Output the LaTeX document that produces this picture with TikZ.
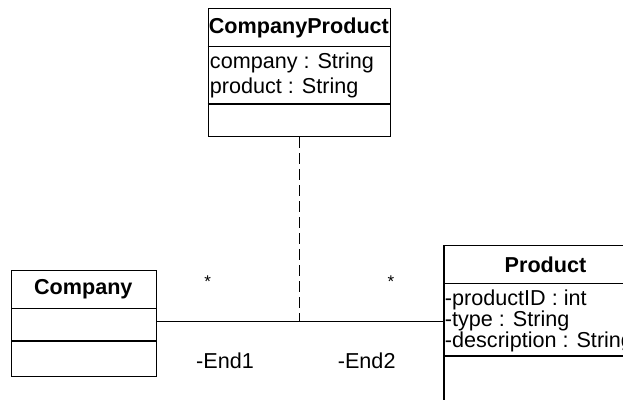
\documentclass[tikz,border=0pt]{standalone}
\usepackage{fontspec}
\setmainfont{Liberation Sans}
\begin{document}
\begin{tikzpicture}[x=1pt,y=-1pt,line width=1.3pt,
  classbox/.style={draw,rectangle,inner sep=0pt,anchor=north west},
  ctitle/.style={font=\fontsize{21.6}{23}\selectfont\bfseries,inner sep=0pt},
  attr/.style={font=\fontsize{21.6}{23}\selectfont,inner sep=0pt,anchor=west},
  elabel/.style={font=\fontsize{21.6}{23}\selectfont,inner sep=0pt},
  mult/.style={font=\fontsize{17}{19}\selectfont,inner sep=0pt},
  assoc/.style={line width=1.2pt},
  assocclass/.style={line width=1.2pt,dash pattern=on 11pt off 5pt}]
\useasboundingbox (0,0) rectangle (623,399);
\clip (0,0) rectangle (623,399);

% association class CompanyProduct
\node[classbox,minimum width=182.3pt,minimum height=128.5pt] (cp) at (207.7,7.5) {};
\draw (cp.west |- 0,46.7) -- (cp.east |- 0,46.7);
\draw (cp.west |- 0,104) -- (cp.east |- 0,104);
\node[ctitle] (cpt) at (298.9,27.5) {CompanyProduct};
\node[attr] (cpa1) at (209.3,63) {company : String};
\node[attr] (cpa2) at (209.3,87.5) {product : String};

% class Company
\node[classbox,minimum width=144.7pt,minimum height=105.7pt] (co) at (11,270) {};
\draw (co.west |- 0,308.3) -- (co.east |- 0,308.3);
\draw (co.west |- 0,341) -- (co.east |- 0,341);
\node[ctitle] (cot) at (83.3,289.5) {Company};

% class Product (runs past the right and bottom edges)
\node[classbox,minimum width=205pt,minimum height=180pt] (pr) at (443.3,245) {};
\draw (pr.west |- 0,283.3) -- (pr.east |- 0,283.3);
\draw (pr.west |- 0,356) -- (pr.east |- 0,356);
\node[ctitle] (prt) at (545.5,264.5) {Product};
\node[attr] (pra1) at (444.3,299.5) {-productID : int};
\node[attr] (pra2) at (444.3,320.5) {-type : String};
\node[attr] (pra3) at (444.3,341.5) {-description : String};

% association Company -- Product with its association class
\coordinate (j) at (299.3,321.7);
\draw[assoc] (co.east |- j) -- (pr.west |- j);
\draw[assocclass] (cp.south -| j) -- (j);

% multiplicities and role names
\node[mult] (m1) at (207.7,281.5) {*};
\node[mult] (m2) at (391,281.5) {*};
\node[elabel] (r1) at (225,360.5) {-End1};
\node[elabel] (r2) at (366.7,360.5) {-End2};
\end{tikzpicture}
\end{document}
